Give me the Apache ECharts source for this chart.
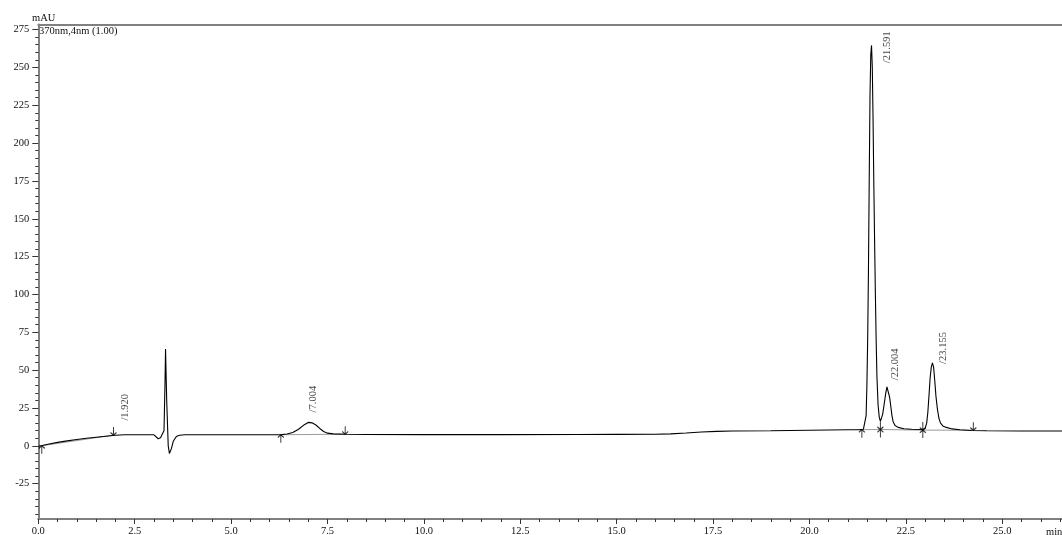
<!DOCTYPE html>
<html><head><meta charset="utf-8">
<script src="https://cdn.jsdelivr.net/npm/echarts@6/dist/echarts.min.js"></script>
<style>html,body{margin:0;padding:0;background:#fff}#c{width:1062px;height:535px}</style>
</head><body><div id="c"></div>
<script>
// ---- data ----
const xTickLabels = [0, 2.5, 5, 7.5, 10, 12.5, 15, 17.5, 20, 22.5, 25];
const yTickLabels = [-25, 0, 25, 50, 75, 100, 125, 150, 175, 200, 225, 250, 275];

const signalTime = [0,0.1,0.25,0.5,0.75,1.0,1.25,1.5,1.75,2.0,2.25,2.5,3.0,3.05,3.11,3.17,3.22,3.26,3.285,3.30,3.33,3.37,3.40,3.45,3.50,3.58,3.66,3.8,5.0,6.3,6.45,6.6,6.75,6.9,7.0,7.1,7.2,7.3,7.4,7.5,7.65,7.95,8.5,10,12,14,15,16,16.4,16.8,17.2,17.6,18,19,20,21,21.3,21.4,21.44,21.47,21.49,21.51,21.53,21.55,21.57,21.59,21.61,21.63,21.65,21.67,21.69,21.71,21.73,21.75,21.78,21.81,21.84,21.87,21.90,21.94,21.98,22.01,22.03,22.05,22.08,22.11,22.14,22.17,22.22,22.30,22.45,22.65,22.94,23.00,23.04,23.07,23.10,23.13,23.16,23.19,23.22,23.25,23.28,23.32,23.36,23.40,23.46,23.55,23.70,23.90,24.20,24.60,25.50,26.60];
const signalMAU = [-0.3,0.2,1.1,2.3,3.3,4.2,5.0,5.7,6.4,7.0,7.3,7.3,7.3,6.9,4.7,5.4,8.0,10.0,40,64,30,0,-5,-2,3.0,6.2,7.0,7.3,7.3,7.4,7.8,8.8,11.0,14.0,15.5,15.2,13.8,11.5,9.5,8.4,7.9,7.7,7.5,7.4,7.4,7.5,7.6,7.7,7.9,8.5,9.2,9.6,9.8,10.0,10.3,10.6,10.7,11.0,12,20,40,70,115,175,230,258,264.5,250,215,172,135,100,70,46,27,19,16.2,16.8,21,28,35,39,39.4,38,32,26,20,16,13.5,12.2,11.3,11.0,10.8,11.5,15,22,33,45,52,54.8,52,43,33,24,18,15,13.2,12.2,11.2,10.6,10.2,10.0,9.8,9.8];

const peakTimes = [1.920, 7.004, 21.591, 22.004, 23.155];
const peakTopMAU = [7.1, 15.5, 264, 39.4, 54.8];

const arrowUpTime = [0.09, 6.29, 21.36, 21.84, 22.94];
const arrowUpMAU = [0.1, 7.35, 10.7, 10.8, 10.4];
const arrowDownTime = [1.95, 7.96, 21.84, 22.94, 24.25];
const arrowDownMAU = [7.1, 7.7, 10.8, 10.4, 10.3];

const baselineFromTime = [0.09, 6.29, 21.36, 21.84, 22.94];
const baselineFromMAU = [0.1, 7.35, 10.7, 10.8, 10.4];
const baselineToTime = [1.95, 7.96, 21.84, 22.94, 24.25];
const baselineToMAU = [7.1, 7.7, 10.8, 10.4, 10.3];

// ---- styling ----
const FONT = 'Liberation Serif, Times New Roman, serif';
const FS = 10.5;
const TXT = '#111';
const AXC = '#808080';
const X_MAX = 26.55, Y_MIN = -48.3, Y_MAX = 278.3;
// label offsets in px: [right shift, gap above anchor]
const labelOffsets = [[12.7, 14.5], [4.6, 10], [16, -17], [9, 6], [12, -1]];

const xMinor = [];
for (let i = 1; i * 0.5 <= X_MAX; i++) { if (i % 5) xMinor.push(i * 0.5); }
const yMinor = [];
for (let i = -9; i * 5 <= 275; i++) { if (i % 5) yMinor.push(i * 5); }

const zip = (a, b) => a.map((v, i) => [v, b[i]]);

const chart = echarts.init(document.getElementById('c'), null, {renderer: 'canvas'});

const baseAxisX = {type: 'value', min: 0, max: X_MAX, splitLine: {show: false}, gridIndex: 0};
const baseAxisY = {type: 'value', min: Y_MIN, max: Y_MAX, splitLine: {show: false}, gridIndex: 0};

const series = [];
for (let i = 0; i < baselineFromTime.length; i++) {
  series.push({
    type: 'line', symbol: 'none', silent: true, z: 2,
    lineStyle: {color: '#9a9a9a', width: 1},
    data: [[baselineFromTime[i], baselineFromMAU[i]], [baselineToTime[i], baselineToMAU[i]]]
  });
}
series.push({
  type: 'line', symbol: 'none', z: 3,
  lineStyle: {color: '#000', width: 1.1},
  data: zip(signalTime, signalMAU)
});
series.push({
  type: 'scatter', z: 4,
  symbol: 'path://M5,0L5,12M1,4L5,0L9,4', symbolSize: [6, 8], symbolOffset: [0, '50%'],
  itemStyle: {color: 'none', borderColor: '#000', borderWidth: 1.1},
  data: zip(arrowUpTime, arrowUpMAU)
});
series.push({
  type: 'scatter', z: 4,
  symbol: 'path://M5,12L5,0M1,8L5,12L9,8', symbolSize: [6, 8], symbolOffset: [0, '-50%'],
  itemStyle: {color: 'none', borderColor: '#000', borderWidth: 1.1},
  data: zip(arrowDownTime, arrowDownMAU)
});
series.push({
  type: 'scatter', z: 5, symbolSize: 0,
  data: peakTimes.map((t, i) => ({
    value: [t, peakTopMAU[i]],
    label: {offset: [labelOffsets[i][1], labelOffsets[i][0]]}
  })),
  label: {
    show: true, position: 'inside', rotate: 90, align: 'left', verticalAlign: 'middle',
    fontFamily: FONT, fontSize: FS, color: TXT,
    formatter: p => '/' + p.value[0].toFixed(3)
  }
});

chart.setOption({
  animation: false,
  backgroundColor: '#fff',
  grid: {left: 38.3, right: 0, top: 24.5, bottom: 16, containLabel: false, outerBoundsMode: 'none'},
  xAxis: [
    Object.assign({}, baseAxisX, {
      position: 'bottom',
      axisLine: {show: true, onZero: false, lineStyle: {color: AXC, width: 2}},
      axisTick: {show: true, customValues: xTickLabels, length: 5, lineStyle: {color: '#333', width: 1}},
      axisLabel: {show: true, customValues: xTickLabels, margin: 7, fontFamily: FONT, fontSize: FS, color: TXT,
        formatter: v => Number(v).toFixed(1)}
    }),
    Object.assign({}, baseAxisX, {
      position: 'bottom',
      axisLine: {show: false, onZero: false},
      axisTick: {show: true, customValues: xMinor, length: 3, lineStyle: {color: '#333', width: 1}},
      axisLabel: {show: false}
    }),
    Object.assign({}, baseAxisX, {
      position: 'top',
      axisLine: {show: true, onZero: false, lineStyle: {color: AXC, width: 2}},
      axisTick: {show: false}, axisLabel: {show: false}
    })
  ],
  yAxis: [
    Object.assign({}, baseAxisY, {
      position: 'left',
      axisLine: {show: true, onZero: false, lineStyle: {color: AXC, width: 2}},
      axisTick: {show: true, customValues: yTickLabels, length: 6, lineStyle: {color: '#333', width: 1}},
      axisLabel: {show: true, customValues: yTickLabels, margin: 9, fontFamily: FONT, fontSize: FS, color: TXT}
    }),
    Object.assign({}, baseAxisY, {
      position: 'left',
      axisLine: {show: false, onZero: false},
      axisTick: {show: true, customValues: yMinor, length: 3, lineStyle: {color: '#333', width: 1}},
      axisLabel: {show: false}
    })
  ],
  graphic: [
    {type: 'text', left: 32, top: 13, style: {text: 'mAU', font: FS + 'px ' + FONT, fill: TXT}},
    {type: 'text', left: 39, top: 26, style: {text: '370nm,4nm (1.00)', font: FS + 'px ' + FONT, fill: TXT}},
    {type: 'text', left: 1046, top: 527, style: {text: 'min', font: FS + 'px ' + FONT, fill: TXT}}
  ],
  series: series
});
</script>
</body></html>
